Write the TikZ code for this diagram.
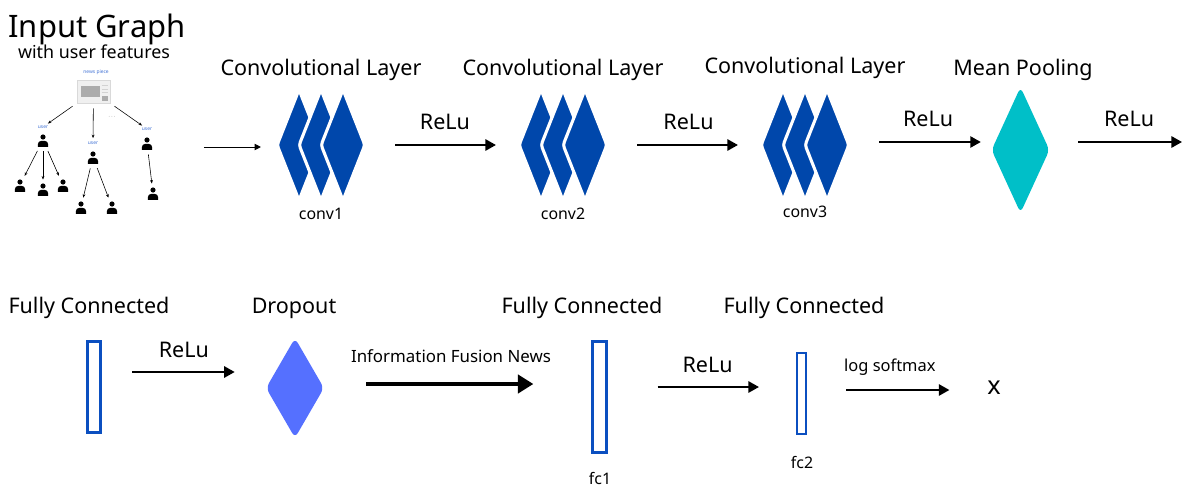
\documentclass[tikz,border=0pt]{standalone}
\usepackage{fontspec}
\setmainfont{Noto Sans}
\usetikzlibrary{shapes.geometric,arrows.meta,positioning,fit}
\definecolor{convblue}{HTML}{0047AB}
\definecolor{poolcyan}{HTML}{00BFC8}
\definecolor{dropblue}{HTML}{5570FF}
\definecolor{fcblue}{HTML}{0B4FC0}
\definecolor{tagblue}{HTML}{3D6FD3}
\tikzset{
	kite/.style={
		diamond,
		inner sep=0,
		rounded corners=2pt
	},
	person/.style={
		minimum width=0.26cm, minimum height=0.3cm, inner sep=0,
		path picture={
			\fill ([yshift=0.075cm]path picture bounding box.center) circle (0.065cm);
			\fill[rounded corners=0.09cm] ([xshift=-0.13cm,yshift=-0.02cm]path picture bounding box.center) rectangle ([xshift=0.13cm,yshift=-0.35cm]path picture bounding box.center);
		}
	}
}

\begin{document}
\begin{tikzpicture}[x=0.025cm,y=-0.025cm]
	\tikzstyle{conv}=[kite, fill=convblue, draw=white, line width=2.2pt, minimum width=1.125cm, minimum height=2.8cm]
	\tikzstyle{fc}=[rectangle, draw=fcblue, line width=2.2pt, fill=white, inner sep=0]
	\tikzstyle{title}=[font=\fontsize{15.3}{18}\selectfont, anchor=base, inner sep=0]
	\tikzstyle{tag}=[font=\fontsize{11.3}{13}\selectfont, anchor=base, inner sep=0]
	\tikzstyle{lbl}=[font=\fontsize{15.3}{18}\selectfont, inner sep=0]
	\tikzstyle{tiny}=[font=\fontsize{3.5}{4}\selectfont, text=tagblue, inner sep=0]
	\tikzstyle{flow}=[-{Triangle[length=7.5pt,width=8pt]}, line width=1.4pt]
	\tikzstyle{link}=[-{Stealth[length=2.5pt,width=2pt]}, line width=0.4pt, shorten <=0.13cm, shorten >=0.08cm]

	\useasboundingbox (0,0) rectangle (1185,487);

	% input graph
	\node[font=\fontsize{22}{26}\selectfont, anchor=base, inner sep=0] at (97,37) {Input Graph};
	\node[font=\fontsize{12.7}{15}\selectfont, anchor=base, inner sep=0] at (94,58) {with user features};

	\node[tiny] (newstag) at (96,72) {news piece};
	\node[rectangle, fill=gray!12, draw=gray!30, line width=0.3pt, minimum width=0.825cm, minimum height=0.575cm, inner sep=0] (news) at (93.5,91.5) {};
	\fill[gray!65] ([shift={(-13,-6)}]news.center) rectangle ([shift={(6,5)}]news.center);
	\fill[gray!65] ([shift={(8,4)}]news.center) rectangle ([shift={(14,9)}]news.center);
	\draw[gray!35, line width=0.6pt] ([shift={(8,-6)}]news.center) -- ([shift={(14,-6)}]news.center)
		([shift={(8,-2)}]news.center) -- ([shift={(14,-2)}]news.center)
		([shift={(8,1)}]news.center) -- ([shift={(14,1)}]news.center);

	\node[person] (u1) at (43,140) {};
	\node[person] (u2) at (93,157) {};
	\node[person] (u3) at (147,143) {};
	\node[tiny] (u1tag) at (43,127) {user};
	\node[tiny] (u2tag) at (93,143) {user};
	\node[tiny] (u3tag) at (147,129) {user};
	\node[tiny, text=gray] (dots) at (112,117) {· · ·};

	\node[person] (l1) at (20,185) {};
	\node[person] (l2) at (43,189) {};
	\node[person] (l3) at (63,185) {};
	\node[person] (l4) at (81,207) {};
	\node[person] (l5) at (112,207) {};
	\node[person] (l6) at (153,193) {};

	\draw[link] (news) -- (u1tag);
	\draw[link] (news) -- (u2tag);
	\draw[link] (news) -- (u3tag);
	\draw[link] (u1) -- (l1);
	\draw[link] (u1) -- (l2);
	\draw[link] (u1) -- (l3);
	\draw[link] (u2) -- (l4);
	\draw[link] (u2) -- (l5);
	\draw[link] (u3) -- (l6);

	\node[inner sep=0, fit=(newstag)(news)(l1)(l4)(l5)(l6)(u3tag)] (graph) {};

	% convolution stacks
	\foreach \n/\x/\ty/\ly in {1/321/75/219, 2/563/75/219, 3/805/73/217}{
		\node[conv] (conv\n-a) at (\x-22,145) {};
		\node[conv] (conv\n) at (\x,145) {};
		\node[conv] (conv\n-b) at (\x+22,145) {};
		\node[title] at (\x,\ty) {Convolutional Layer};
		\node[tag] at (\x,\ly) {conv\n};
	}

	\node[kite, fill=poolcyan, minimum width=1.45cm, minimum height=3.15cm, rounded corners=4pt] (pool) at (1020.5,150) {};
	\node[title] at (1023,75) {Mean Pooling};
	\coordinate (poolout) at (1182,142);

	\draw[-{Triangle[length=4.5pt,width=4.5pt]}, line width=0.6pt, shorten <=1.125cm, shorten >=0.35cm] (graph.east |- 0,147) -- (conv1-a.west |- 0,147);
	\draw[flow, shorten <=0.7cm, shorten >=0.525cm] (conv1-b) -- node[lbl, above=0.35cm, pos=0.52] {ReLu} (conv2-a);
	\draw[flow, shorten <=0.7cm, shorten >=0.525cm] (conv2-b) -- node[lbl, above=0.35cm, pos=0.53] {ReLu} (conv3-a);
	\draw[flow, shorten <=0.7cm, shorten >=0.26cm] (conv3-b.east |- 0,142) -- node[lbl, above=0.35cm, pos=0.55] {ReLu} (pool.west |- 0,142);
	\draw[flow, shorten <=0.71cm] (pool.east |- 0,142) -- node[lbl, above=0.35cm, pos=0.6] {ReLu} (poolout);

	% dense part
	\node[fc, minimum width=0.325cm, minimum height=2.275cm] (fc0) at (94,387) {};
	\node[title] at (89,313) {Fully Connected};
	\node[kite, fill=dropblue, minimum width=1.45cm, minimum height=2.5cm, rounded corners=4pt] (drop) at (295,388) {};
	\node[title] at (294,313) {Dropout};
	\node[fc, minimum width=0.35cm, minimum height=2.775cm] (fc1) at (599.5,397) {};
	\node[title] at (582,313) {Fully Connected};
	\node[tag] at (600,484) {fc1};
	\node[fc, line width=1.6pt, minimum width=0.22cm, minimum height=2.02cm] (fc2) at (801.5,393.5) {};
	\node[title] at (804,313) {Fully Connected};
	\node[tag] at (802,468) {fc2};
	\node[font=\fontsize{18}{20}\selectfont, anchor=base, inner sep=0] (xout) at (994,394) {x};

	\draw[flow, shorten <=0.76cm, shorten >=0.775cm] (fc0.east |- 0,372) -- node[lbl, above=0.325cm] {ReLu} (drop.west |- 0,372);
	\draw[-{Triangle[length=11pt,width=13pt]}, line width=2.5pt, shorten <=1.05cm, shorten >=1.44cm] (drop.east |- 0,384) -- node[font=\fontsize{12}{14}\selectfont, inner sep=0, above=0.48cm, pos=0.475] {Information Fusion News} (fc1.west |- 0,384);
	\draw[flow, shorten <=1.24cm, shorten >=0.925cm] (fc1.east |- 0,387) -- node[lbl, above=0.325cm, pos=0.53] {ReLu} (fc2.west |- 0,387);
	\draw[flow, shorten <=0.975cm, shorten >=0.94cm] (fc2.east |- 0,390) -- node[font=\fontsize{11.7}{14}\selectfont, inner sep=0, above=0.35cm, pos=0.46] {log softmax} (xout.west |- 0,390);
\end{tikzpicture}
\end{document}
